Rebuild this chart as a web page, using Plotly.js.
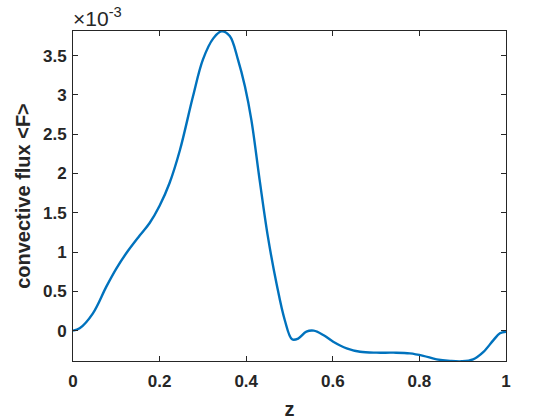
<!DOCTYPE html>
<html>
<head>
<meta charset="utf-8">
<script src="https://cdn.plot.ly/plotly-3.0.1.min.js"></script>
<style>html,body{margin:0;padding:0;background:#fff;}#plot{width:560px;height:420px;}</style>
</head>
<body>
<div id="plot"></div>
<script>
// z positions
var z = [0, 0.0154, 0.046, 0.077, 0.100, 0.123, 0.154, 0.177, 0.200, 0.223, 0.247, 0.277, 0.300, 0.324, 0.343, 0.362, 0.381, 0.397, 0.412, 0.431, 0.450, 0.470, 0.489, 0.506, 0.520, 0.539, 0.556, 0.578, 0.601, 0.632, 0.663, 0.701, 0.740, 0.778, 0.809, 0.840, 0.871, 0.898, 0.924, 0.948, 0.971, 0.986, 1.0];
// convective flux <F>, in units of 1e-3
var fluxE3 = [0, 0.03, 0.22, 0.56, 0.79, 0.985, 1.21, 1.37, 1.59, 1.88, 2.30, 2.98, 3.45, 3.72, 3.81, 3.75, 3.45, 3.11, 2.68, 1.92, 1.20, 0.60, 0.136, -0.11, -0.10, -0.013, 0.0, -0.055, -0.14, -0.225, -0.268, -0.28, -0.28, -0.289, -0.32, -0.365, -0.385, -0.39, -0.365, -0.27, -0.12, -0.034, -0.013];
var xTicks = [0, 0.2, 0.4, 0.6, 0.8, 1];
var yTicks = [0, 0.5, 1, 1.5, 2, 2.5, 3, 3.5];
var yRange = [-0.386, 3.814];

var font = "'Liberation Sans', Arial, Helvetica, sans-serif";
var axisCommon = {
  showline: true, linecolor: '#262626', linewidth: 1, mirror: 'ticks',
  ticks: 'inside', ticklen: 5, tickwidth: 1, tickcolor: '#262626',
  showgrid: false, zeroline: false,
  tickfont: {family: font, size: 17, color: '#262626', weight: 'bold'}
};
var trace = {
  x: z, y: fluxE3, type: 'scatter', mode: 'lines',
  line: {color: '#0072BD', width: 2.4, shape: 'spline', smoothing: 1}
};
var layout = {
  width: 560, height: 420,
  margin: {l: 73, r: 54, t: 31, b: 59},
  paper_bgcolor: '#fff', plot_bgcolor: '#fff',
  showlegend: false,
  xaxis: Object.assign({}, axisCommon, {
    range: [0, 1], tickvals: xTicks, ticklabelstandoff: 5,
    title: {text: 'z', font: {family: font, size: 20, color: '#262626', weight: 'bold'}, standoff: 14}
  }),
  yaxis: Object.assign({}, axisCommon, {
    range: yRange, tickvals: yTicks, ticklabelstandoff: 2,
    title: {text: 'convective flux <F>', font: {family: font, size: 20, color: '#262626', weight: 'bold'}, standoff: 6}
  }),
  annotations: [{
    xref: 'paper', yref: 'paper', x: 0, y: 1, xanchor: 'left', yanchor: 'bottom',
    xshift: -2, yshift: -1, showarrow: false,
    text: '\u00d710<sup>-3</sup>',
    font: {family: font, size: 21, color: '#262626'}
  }]
};
Plotly.newPlot('plot', [trace], layout, {displayModeBar: false, staticPlot: true});
</script>
</body>
</html>
